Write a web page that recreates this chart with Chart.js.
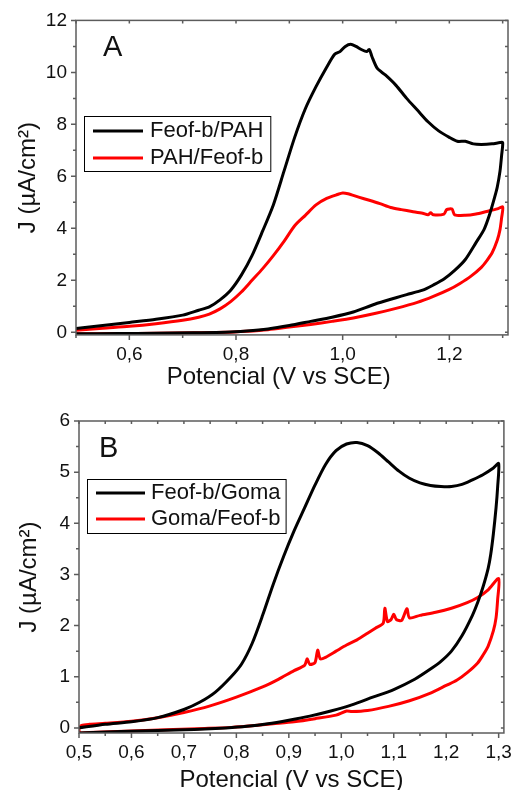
<!DOCTYPE html>
<html><head><meta charset="utf-8">
<script src="https://cdn.jsdelivr.net/npm/chart.js@4.4.1/dist/chart.umd.min.js"></script>
<style>
html,body{margin:0;padding:0;background:#fff;width:520px;height:790px;overflow:hidden;}
#ca{position:absolute;left:0;top:0;}
#cb{position:absolute;left:0;top:395px;}
</style></head><body>
<canvas id="ca" width="520" height="395"></canvas>
<canvas id="cb" width="520" height="415"></canvas>
<script>
// ---------- data (potential V, current density J in µA/cm²) ----------
const labelsA = ['Feof-b/PAH', 'PAH/Feof-b'];
const labelsB = ['Feof-b/Goma', 'Goma/Feof-b'];
const seriesColors = ['#000000', '#ff0000'];
const xTitle = 'Potencial (V vs SCE)';
const yTitle = 'J (\u00b5A/cm\u00b2)';

const aFeofPah = [
 [0.50,0.15],[0.55,0.26],[0.60,0.38],[0.65,0.50],[0.70,0.66],[0.73,0.85],[0.75,0.98],[0.77,1.25],[0.79,1.62],[0.81,2.2],
 [0.83,2.95],[0.85,3.9],[0.87,4.9],[0.89,6.2],[0.91,7.5],[0.93,8.6],[0.95,9.45],[0.97,10.2],[0.985,10.7],[0.995,10.8],
 [1.005,11.0],[1.015,11.08],[1.025,11.0],[1.035,10.88],[1.045,10.8],[1.05,10.88],[1.055,10.6],[1.065,10.15],[1.08,9.9],[1.10,9.5],
 [1.12,9.0],[1.14,8.55],[1.16,8.1],[1.18,7.75],[1.20,7.5],[1.215,7.35],[1.23,7.35],[1.245,7.25],[1.26,7.23],[1.28,7.25],[1.295,7.3],[1.30,7.3],
 [1.298,6.8],[1.295,6.2],[1.29,5.6],[1.285,5.2],[1.275,4.5],[1.265,3.95],[1.25,3.45],[1.23,2.8],[1.21,2.38],[1.19,2.05],
 [1.17,1.82],[1.15,1.62],[1.12,1.45],[1.10,1.33],[1.06,1.08],[1.02,0.78],[0.98,0.58],[0.94,0.42],[0.90,0.26],[0.86,0.13],
 [0.82,0.05],[0.78,0.0],[0.72,-0.02],[0.65,-0.04],[0.58,-0.05],[0.50,-0.06]
];
const aPahFeof = [
 [0.50,0.08],[0.55,0.16],[0.60,0.23],[0.65,0.33],[0.70,0.46],[0.73,0.58],[0.75,0.7],[0.77,0.9],[0.79,1.18],[0.81,1.55],
 [0.83,2.0],[0.85,2.45],[0.87,2.95],[0.89,3.5],[0.91,4.1],[0.93,4.5],[0.95,4.9],[0.97,5.15],[0.99,5.3],[1.00,5.36],
 [1.01,5.33],[1.03,5.2],[1.05,5.08],[1.07,4.95],[1.09,4.8],[1.11,4.72],[1.13,4.65],[1.15,4.58],[1.16,4.52],[1.165,4.6],
 [1.17,4.52],[1.19,4.55],[1.195,4.72],[1.205,4.74],[1.21,4.52],[1.23,4.5],[1.25,4.55],[1.27,4.65],[1.29,4.75],[1.30,4.82],
 [1.298,4.4],[1.295,3.95],[1.29,3.55],[1.28,3.05],[1.27,2.75],[1.26,2.5],[1.24,2.15],[1.22,1.88],[1.20,1.65],[1.17,1.38],
 [1.14,1.15],[1.10,0.92],[1.06,0.72],[1.02,0.55],[0.98,0.42],[0.94,0.3],[0.90,0.2],[0.86,0.1],[0.82,0.04],[0.78,0.0],
 [0.72,-0.02],[0.65,-0.04],[0.58,-0.05],[0.50,-0.06]
];
const bFeofGoma = [
 [0.50,0.0],[0.55,0.07],[0.60,0.12],[0.65,0.2],[0.70,0.36],[0.73,0.5],[0.76,0.7],[0.79,1.0],[0.81,1.25],[0.83,1.65],
 [0.85,2.2],[0.87,2.8],[0.89,3.35],[0.91,3.85],[0.93,4.3],[0.95,4.75],[0.97,5.15],[0.99,5.42],[1.01,5.55],[1.03,5.58],
 [1.05,5.52],[1.07,5.38],[1.09,5.2],[1.11,5.02],[1.13,4.88],[1.15,4.79],[1.17,4.74],[1.19,4.72],[1.21,4.72],[1.23,4.76],
 [1.25,4.85],[1.27,4.95],[1.29,5.08],[1.30,5.17],
 [1.298,4.7],[1.295,4.3],[1.29,3.8],[1.285,3.4],[1.28,3.12],[1.27,2.75],[1.26,2.45],[1.25,2.2],[1.23,1.8],[1.21,1.5],
 [1.19,1.3],[1.17,1.15],[1.14,0.95],[1.10,0.75],[1.06,0.6],[1.02,0.45],[0.98,0.33],[0.94,0.23],[0.90,0.15],[0.86,0.08],
 [0.82,0.03],[0.78,0.0],[0.72,-0.03],[0.65,-0.05],[0.58,-0.07],[0.50,-0.1]
];
const bGomaFeof = [
 [0.50,0.0],[0.505,0.05],[0.52,0.07],[0.55,0.09],[0.60,0.13],[0.65,0.2],[0.70,0.3],[0.75,0.43],[0.80,0.6],[0.85,0.8],
 [0.88,0.95],[0.91,1.12],[0.93,1.22],[0.935,1.35],[0.94,1.24],[0.95,1.28],[0.955,1.52],[0.96,1.35],[0.97,1.38],[0.99,1.5],
 [1.01,1.62],[1.03,1.72],[1.05,1.85],[1.065,1.95],[1.08,2.05],[1.083,2.34],[1.088,2.08],[1.095,2.12],[1.10,2.22],[1.105,2.12],
 [1.115,2.1],[1.125,2.33],[1.13,2.15],[1.15,2.2],[1.18,2.26],[1.21,2.34],[1.24,2.45],[1.26,2.55],[1.28,2.7],[1.30,2.92],
 [1.298,2.5],[1.295,2.15],[1.29,1.9],[1.28,1.6],[1.27,1.42],[1.26,1.27],[1.24,1.08],[1.22,0.93],[1.20,0.83],[1.17,0.68],
 [1.13,0.53],[1.09,0.42],[1.05,0.34],[1.02,0.32],[1.01,0.33],[0.99,0.25],[0.95,0.18],[0.91,0.12],[0.87,0.08],[0.83,0.04],
 [0.79,0.01],[0.74,-0.01],[0.68,-0.03],[0.60,-0.06],[0.52,-0.09],[0.50,-0.1],[0.50,0.0]
];

// tick values
const aXMajor = [0.6, 0.8, 1.0, 1.2];
const aXMinor = [0.5, 0.7, 0.9, 1.1, 1.3];
const aYMajor = [0, 2, 4, 6, 8, 10, 12];
const aYMinor = [1, 3, 5, 7, 9, 11];
const bXMajor = [0.5, 0.6, 0.7, 0.8, 0.9, 1.0, 1.1, 1.2, 1.3];
const bXMinor = [0.55, 0.65, 0.75, 0.85, 0.95, 1.05, 1.15, 1.25];
const bYMajor = [0, 1, 2, 3, 4, 5, 6];
const bYMinor = [0.5, 1.5, 2.5, 3.5, 4.5, 5.5];

// ---------- plugins ----------
Chart.defaults.font.family = "'Liberation Sans', Arial, sans-serif";
Chart.defaults.color = '#111';

const framePlugin = {
  id: 'frame',
  afterDatasetsDraw(chart, args, o) {
    const {ctx, chartArea: a, scales: {x, y}} = chart;
    ctx.save();
    ctx.strokeStyle = o.color; ctx.lineWidth = o.width;
    ctx.beginPath();
    const seg = (x1, y1, x2, y2) => { ctx.moveTo(x1, y1); ctx.lineTo(x2, y2); };
    o.xMajor.forEach(v => { const p = x.getPixelForValue(v); seg(p, a.bottom, p, a.bottom + o.major); seg(p, a.top, p, a.top + o.mirror); });
    o.xMinor.forEach(v => { const p = x.getPixelForValue(v); seg(p, a.bottom, p, a.bottom + o.minor); seg(p, a.top, p, a.top + o.mirror); });
    o.yMajor.forEach(v => { const p = y.getPixelForValue(v); seg(a.left, p, a.left - o.major, p); seg(a.right, p, a.right - o.mirror, p); });
    o.yMinor.forEach(v => { const p = y.getPixelForValue(v); seg(a.left, p, a.left - o.minor, p); seg(a.right, p, a.right - o.mirror, p); });
    ctx.stroke();
    ctx.strokeRect(a.left, a.top, a.right - a.left, a.bottom - a.top);
    ctx.restore();
  }
};

const insetLegend = {
  id: 'insetLegend',
  afterDraw(chart, args, o) {
    const ctx = chart.ctx;
    const ds = chart.data.datasets;
    ctx.save();
    ctx.font = o.font;
    const w = Math.max(...ds.map(d => ctx.measureText(d.label).width));
    const bw = o.textX - o.left + w + o.padRight;
    ctx.fillStyle = '#fff';
    ctx.fillRect(o.left, o.top, bw, o.height);
    ctx.strokeStyle = '#000'; ctx.lineWidth = 1;
    ctx.strokeRect(o.left + 0.5, o.top + 0.5, bw, o.height);
    ctx.textBaseline = 'middle'; ctx.textAlign = 'left';
    ds.forEach((d, i) => {
      const cy = o.firstRow + i * o.rowH;
      ctx.strokeStyle = d.borderColor; ctx.lineWidth = o.lineW;
      ctx.beginPath(); ctx.moveTo(o.lineX1, cy); ctx.lineTo(o.lineX2, cy); ctx.stroke();
      ctx.fillStyle = '#111';
      ctx.fillText(d.label, o.textX, cy);
    });
    ctx.restore();
  }
};

const panelTag = {
  id: 'panelTag',
  afterDraw(chart, args, o) {
    const ctx = chart.ctx;
    ctx.save();
    ctx.font = o.font; ctx.fillStyle = '#111';
    ctx.textBaseline = 'middle'; ctx.textAlign = 'left';
    ctx.fillText(o.text, o.x, o.y);
    ctx.restore();
  }
};

const fmt = v => Number(v).toFixed(1).replace('.', ',');

function panel(id, c) {
  return new Chart(document.getElementById(id), {
    type: 'line',
    data: {
      datasets: c.series.map((s, i) => ({
        label: c.labels[i],
        data: s.map(p => ({x: p[0], y: p[1]})),
        borderColor: seriesColors[i],
        borderWidth: 3,
        pointRadius: 0,
        tension: 0.25,
        fill: false
      }))
    },
    options: {
      responsive: false, animation: false, devicePixelRatio: 1,
      layout: {padding: c.pad},
      plugins: {
        legend: {display: false},
        tooltip: {enabled: false},
        frame: {color: '#5c5c5c', width: 1.5, major: 5, minor: 3, mirror: 3,
                xMajor: c.xMajor, xMinor: c.xMinor, yMajor: c.yMajor, yMinor: c.yMinor},
        insetLegend: c.legend,
        panelTag: c.tag
      },
      scales: {
        x: {
          type: 'linear', min: 0.5, max: 1.31,
          afterBuildTicks: s => { s.ticks = c.xMajor.map(v => ({value: v})); },
          afterFit: s => { s.height = c.xAxisH; },
          grid: {display: false, drawTicks: false},
          border: {display: false},
          ticks: {autoSkip: false, maxRotation: 0, padding: c.xTickPad, font: {size: 19}, color: '#111', callback: v => fmt(v)},
          title: {display: true, text: xTitle + c.xTitleTail, font: {size: 24}, color: '#111', padding: {top: 0, bottom: c.xTitlePad}}
        },
        y: {
          type: 'linear', min: -0.1, max: c.yMax,
          afterBuildTicks: s => { s.ticks = c.yMajor.map(v => ({value: v})); },
          afterFit: s => { s.width = c.yAxisW; },
          grid: {display: false, drawTicks: false},
          border: {display: false},
          ticks: {autoSkip: false, padding: 9, font: {size: 19}, color: '#111', callback: v => String(v)},
          title: {display: true, text: yTitle, font: {size: 24}, color: '#111', padding: {top: c.yTitlePad, bottom: 0}}
        }
      }
    },
    plugins: [framePlugin, insetLegend, panelTag]
  });
}

panel('ca', {
  series: [aFeofPah, aPahFeof], labels: labelsA,
  xMajor: aXMajor, xMinor: aXMinor, yMajor: aYMajor, yMinor: aYMinor,
  yMax: 12, pad: {top: 20, right: 12, left: 0, bottom: 0},
  yAxisW: 76, xAxisH: 60.1, xTickPad: 8, xTitlePad: 3.6, yTitlePad: 13.6, xTitleTail: '\u00a0\u00a0\u00a0\u00a0',
  legend: {font: "22px 'Liberation Sans', Arial, sans-serif", left: 84, top: 116, height: 55, textX: 150, padRight: 7,
           firstRow: 131, rowH: 27, lineX1: 93, lineX2: 143, lineW: 3},
  tag: {text: 'A', font: "29px 'Liberation Sans', Arial, sans-serif", x: 103, y: 47.5}
});

panel('cb', {
  series: [bFeofGoma, bGomaFeof], labels: labelsB,
  xMajor: bXMajor, xMinor: bXMinor, yMajor: bYMajor, yMinor: bYMinor,
  yMax: 6, pad: {top: 26, right: 11, left: 0, bottom: 0},
  yAxisW: 79, xAxisH: 77, xTickPad: 8, xTitlePad: 15.6, yTitlePad: 15, xTitleTail: '',
  legend: {font: "22px 'Liberation Sans', Arial, sans-serif", left: 87, top: 84, height: 54, textX: 151, padRight: 5,
           firstRow: 98, rowH: 26, lineX1: 96, lineX2: 145, lineW: 3},
  tag: {text: 'B', font: "29px 'Liberation Sans', Arial, sans-serif", x: 99, y: 53.5}
});
</script>
</body></html>
